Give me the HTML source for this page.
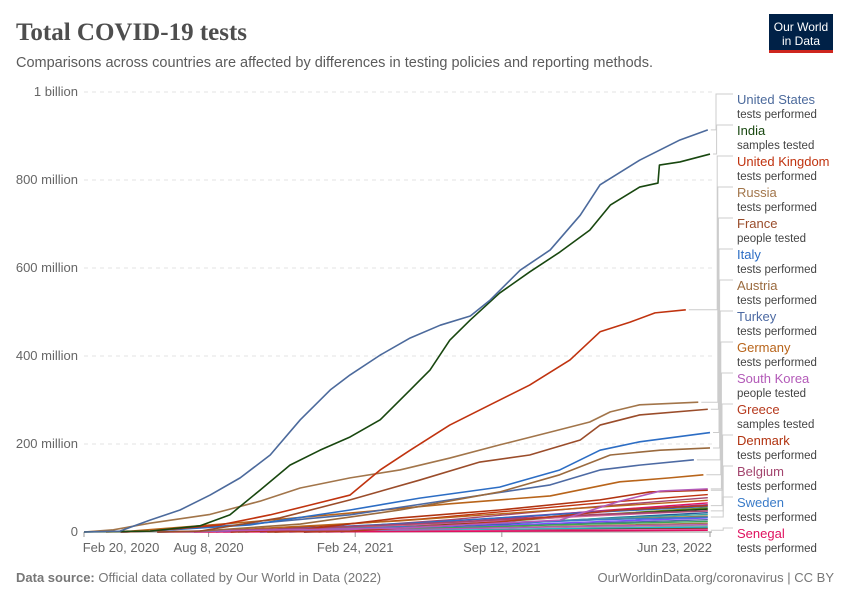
<!DOCTYPE html>
<html><head><meta charset="utf-8"><style>
body{margin:0;background:#fff;font-family:"Liberation Sans",sans-serif}
svg text{font-family:"Liberation Sans",sans-serif}
</style></head><body>
<svg id="c" width="850" height="600" viewBox="0 0 850 600">
<text x="16" y="40" font-size="25" font-weight="bold" fill="#4e4e4e" style="font-family:'Liberation Serif',serif">Total COVID-19 tests</text>
<text x="16" y="67" font-size="14.5" fill="#5b5b5b">Comparisons across countries are affected by differences in testing policies and reporting methods.</text>
<g><rect x="769" y="14" width="64" height="38" fill="#002147"/><rect x="769" y="50" width="64" height="3" fill="#ce261e"/>
<text x="801" y="31" font-size="12" fill="#fff" text-anchor="middle">Our World</text><text x="801" y="45" font-size="12" fill="#fff" text-anchor="middle">in Data</text></g>
<g id="grid"></g><g id="lines"></g><g id="conn"></g><g id="legend"></g>
<text x="16" y="582" font-size="13" fill="#777"><tspan font-weight="bold">Data source:</tspan> Official data collated by Our World in Data (2022)</text>
<text x="834" y="582" font-size="13" fill="#777" text-anchor="end">OurWorldinData.org/coronavirus | CC BY</text>
</svg>
<script>
const yTicks=[0,200,400,600,800,1000];
const yTickLabels=["0","200 million","400 million","600 million","800 million","1 billion"];
const xTicks=[0,170,370,570,854];
const xTickLabels=["Feb 20, 2020","Aug 8, 2020","Feb 24, 2021","Sep 12, 2021","Jun 23, 2022"];
const countries=["United States","India","United Kingdom","Russia","France","Italy","Austria","Turkey","Germany","South Korea","Greece","Denmark","Belgium","Sweden","Senegal"];
const metrics=["tests performed","samples tested","tests performed","tests performed","people tested","tests performed","tests performed","tests performed","tests performed","people tested","samples tested","tests performed","tests performed","tests performed","tests performed"];
const colors=["#4c6a9c","#18470f","#c0330f","#a2754a","#9a4c2a","#2c6dc4","#9a6a3e","#4d6aa3","#b8641a","#b35ab8","#b63a1e","#b13310","#a3456e","#3a7bc8","#e0115f"];
const sUS=[[0,0],[49,2],[90,27],[131,50],[172,84],[213,123],[254,175],[295,255],[336,323],[363,357],[404,402],[445,441],[486,470],[527,491],[554,527],[595,595],[636,641],[677,720],[704,789],[758,845],[813,891],[851,914]];
const sIndia=[[0,0],[90,2],[158,14],[199,39],[240,95],[281,152],[322,186],[363,216],[404,255],[445,323],[472,368],[499,436],[527,482],[567,543],[608,591],[649,636],[690,686],[718,743],[758,784],[783,793],[785,834],[813,841],[854,859]];
const sUK=[[50,0],[90,2],[186,16],[254,39],[308,61],[363,84],[404,141],[445,186],[499,243],[554,289],[608,334],[663,391],[704,455],[745,477],[779,498],[821,505]];
const sRussia=[[0,0],[40,5],[90,20],[172,40],[240,70],[295,100],[363,123],[431,141],[499,168],[567,198],[636,227],[690,250],[718,273],[758,289],[838,295]];
const sFrance=[[100,0],[158,2],[267,32],[363,73],[458,118],[540,159],[608,175],[677,209],[704,243],[758,266],[851,279]];
const sItaly=[[50,0],[90,2],[226,16],[363,50],[458,77],[567,102],[649,141],[704,186],[758,205],[854,226]];
const sAustria=[[100,0],[158,2],[295,18],[431,50],[567,91],[649,130],[718,175],[786,186],[854,191]];
const sTurkey=[[50,0],[90,2],[226,18],[363,39],[499,73],[636,107],[704,141],[758,152],[832,164]];
const sGermany=[[30,0],[63,2],[226,23],[363,43],[499,64],[636,82],[731,114],[799,123],[845,130]];
const sKorea=[[100,0],[158,2],[431,9],[649,27],[731,70],[786,93],[851,98]];
const sGreece=[[250,0],[363,2],[567,23],[731,50],[851,60]];
const sDenmark=[[200,0],[295,5],[431,32],[567,50],[704,73],[772,91],[851,95]];
const sBelgium=[[100,0],[300,8],[500,22],[700,40],[851,48]];
const sSweden=[[100,0],[300,5],[500,15],[700,28],[851,34]];
const sSenegal=[[100,0],[400,1],[700,3],[851,4]];
const series=[sUS,sIndia,sUK,sRussia,sFrance,sItaly,sAustria,sTurkey,sGermany,sKorea,sGreece,sDenmark,sBelgium,sSweden,sSenegal];
const fillerEnds=[85,78,72,66,62,58,55,52,48,44,40,36,32,28,24,20,17,14,11,8,6];
const fillerColors=["#c0330f","#a3456e","#b8641a","#e0115f","#8a3b9a","#2c6dc4","#6b8e23","#18470f","#d6689c","#1f5c99","#38a3a5","#c27c0e","#7c4dff","#4c6a9c","#3aa655","#a2754a","#b35ab8","#999","#17becf","#5b3000","#e377c2"];
const fillerStart=[200,260,150,300,220,180,320,260,200,350,240,170,280,300,210,260,190,330,240,300,150];
const X0=84,X1=710,Y0=532,Y1=92;
const xs=d=>X0+d*(X1-X0)/854, ys=v=>Y0-v*(Y0-Y1)/1000;
const NS="http://www.w3.org/2000/svg";
function mk(t,a,p){const e=document.createElementNS(NS,t);for(const k in a)e.setAttribute(k,a[k]);p.appendChild(e);return e;}
const grid=document.getElementById('grid');
yTicks.forEach((v,i)=>{
 const l=mk('line',{x1:84,x2:712,y1:ys(v),y2:ys(v),stroke:'#e3e3e3','stroke-dasharray':v?'4,4':'',},grid);
 
 
 if(!v)l.setAttribute('stroke','#999');
 const t=mk('text',{x:78,y:ys(v)+4,'text-anchor':'end','font-size':13,fill:'#666'},grid);t.textContent=yTickLabels[i];
 
 
});
xTicks.forEach((d,i)=>{
 const x=xs(d);
 const tk=mk('line',{x1:x,x2:x,y1:532,y2:537,stroke:'#999'},grid);
 
 
 const t=mk('text',{x:i==4?x+2:x,y:552,'text-anchor':i==4?'end':'middle','font-size':13,fill:'#666'},grid);t.textContent=xTickLabels[i];
 if(i==0)t.setAttribute('x',x+37);
 
 
});
const lines=document.getElementById('lines');
fillerEnds.forEach((v,i)=>{
 const s=fillerStart[i];
 const pts=[[s,0],[s+(851-s)*0.4,v*0.35],[s+(851-s)*0.75,v*0.75],[851,v]];
 const p=mk('polyline',{points:pts.map(q=>xs(q[0])+','+ys(q[1])).join(' '),fill:'none',stroke:fillerColors[i],'stroke-width':1.4},lines);
 
 
});
series.slice().reverse().forEach((s,ri)=>{
 const i=series.length-1-ri;
 const p=mk('polyline',{points:s.map(q=>xs(q[0])+','+ys(q[1])).join(' '),fill:'none',stroke:colors[i],'stroke-width':1.6,'stroke-linejoin':'round'},lines);
 
 
});
const conn=document.getElementById('conn'),leg=document.getElementById('legend');
countries.forEach((c,i)=>{
 const s=series[i],e=s[s.length-1];
 const ex=xs(e[0]),ey=ys(e[1]),ly=99+i*31-5;
 const cx=716+Math.min(i,12)*0.6;
 const p=mk('polyline',{points:`${ex+3},${ey} ${cx},${ey} ${cx},${ly} 733,${ly}`,fill:'none',stroke:'#ccc','stroke-width':1},conn);
 
 
 const g=mk('g',{},leg);
 
 
 const t1=mk('text',{x:737,y:104+i*31,'font-size':13,fill:colors[i]},g);t1.textContent=c;
 const t2=mk('text',{x:737,y:118+i*31,'font-size':11.5,fill:'#444'},g);t2.textContent=metrics[i];
});
</script>
</body></html>
